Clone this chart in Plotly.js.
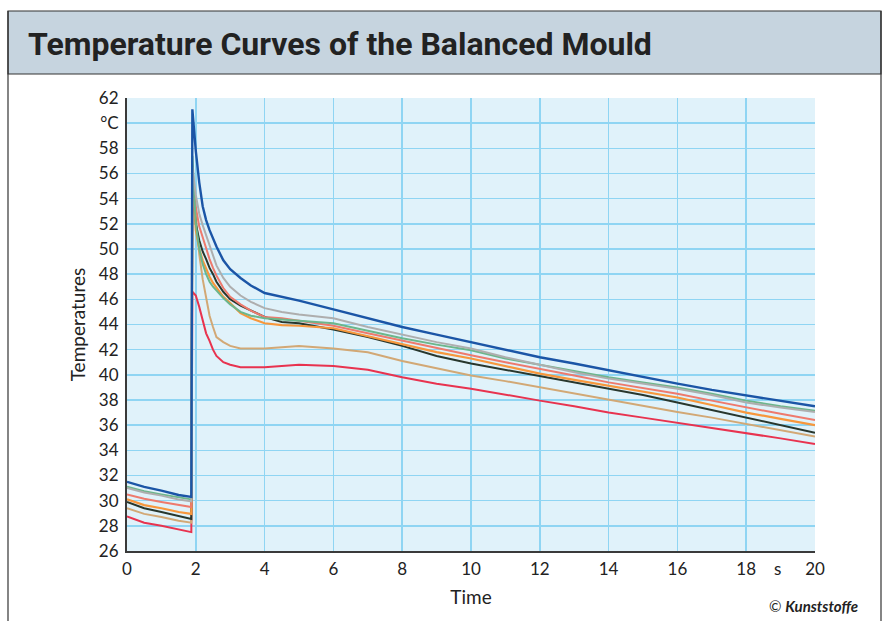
<!DOCTYPE html>
<html>
<head>
<meta charset="utf-8">
<script src="https://cdn.plot.ly/plotly-3.0.1.min.js"></script>
<style>
html,body{margin:0;padding:0;background:#fff;}
#chart{width:882px;height:621px;}
</style>
</head>
<body>
<div id="chart"></div>
<script>
// time axis (s)
const time = [0, 0.5, 1, 1.5, 1.87, 1.9, 2.0, 2.1, 2.2, 2.3, 2.4, 2.5, 2.6, 2.8, 3.0, 3.3, 3.6, 4, 4.5, 5, 6, 7, 8, 9, 10, 11, 12, 13, 14, 15, 16, 17, 18, 19, 20];

// temperature series (°C)
const blue   = [31.5, 31.1, 30.8, 30.45, 30.3, 61.1, 57.8, 55.3, 53.4, 52.3, 51.5, 50.8, 50.2, 49.1, 48.4, 47.7, 47.1, 46.5, 46.2, 45.9, 45.2, 44.5, 43.8, 43.2, 42.6, 42.0, 41.4, 40.9, 40.35, 39.8, 39.3, 38.8, 38.35, 37.9, 37.5];
const grey   = [31.0, 30.65, 30.4, 30.1, 29.95, 56.5, 54.3, 52.8, 51.9, 51.1, 50.3, 49.5, 48.7, 47.7, 47.0, 46.3, 45.8, 45.3, 45.0, 44.8, 44.5, 43.8, 43.2, 42.6, 42.1, 41.4, 40.8, 40.2, 39.7, 39.3, 38.9, 38.4, 37.8, 37.4, 37.05];
const green  = [31.1, 30.75, 30.5, 30.25, 30.1, 57.4, 52.0, 50.0, 48.8, 48.0, 47.4, 47.0, 46.7, 46.1, 45.6, 45.0, 44.7, 44.5, 44.4, 44.3, 44.1, 43.5, 42.9, 42.4, 41.95, 41.3, 40.8, 40.3, 39.8, 39.4, 39.0, 38.5, 37.95, 37.5, 37.15];
const salmon = [30.5, 30.15, 29.9, 29.65, 29.5, 56.0, 53.3, 51.8, 50.9, 50.0, 49.2, 48.5, 47.9, 46.9, 46.2, 45.6, 45.1, 44.6, 44.5, 44.3, 43.9, 43.3, 42.7, 42.1, 41.55, 41.0, 40.5, 39.95, 39.4, 38.95, 38.5, 37.95, 37.4, 36.9, 36.4];
const orange = [30.1, 29.65, 29.4, 29.1, 28.95, 56.3, 51.5, 50.0, 49.1, 48.4, 47.8, 47.3, 46.9, 46.2, 45.7, 44.9, 44.5, 44.1, 43.95, 43.9, 43.7, 43.05, 42.4, 41.8, 41.3, 40.7, 40.1, 39.6, 39.15, 38.7, 38.2, 37.6, 37.0, 36.5, 36.0];
const black  = [29.9, 29.4, 29.1, 28.75, 28.55, 55.0, 52.0, 50.7, 49.8, 49.2, 48.5, 48.0, 47.4, 46.6, 46.0, 45.5, 45.1, 44.6, 44.2, 44.1, 43.6, 43.0, 42.3, 41.5, 40.9, 40.4, 39.95, 39.4, 38.9, 38.4, 37.8, 37.2, 36.6, 36.0, 35.4];
const tan    = [29.4, 28.95, 28.7, 28.4, 28.25, 54.5, 52.6, 49.6, 47.6, 46.0, 44.7, 43.8, 43.0, 42.6, 42.3, 42.1, 42.1, 42.1, 42.2, 42.3, 42.1, 41.8, 41.1, 40.5, 39.95, 39.5, 39.0, 38.5, 38.0, 37.5, 37.05, 36.6, 36.1, 35.6, 35.1];
const red    = [28.75, 28.25, 28.0, 27.7, 27.5, 46.6, 46.3, 45.4, 44.3, 43.3, 42.7, 42.0, 41.5, 41.0, 40.8, 40.6, 40.6, 40.6, 40.7, 40.8, 40.7, 40.4, 39.8, 39.3, 38.9, 38.4, 37.95, 37.5, 37.0, 36.6, 36.2, 35.8, 35.4, 34.95, 34.5];

// tick labels
const yTickVals = [26, 28, 30, 32, 34, 36, 38, 40, 42, 44, 46, 48, 50, 52, 54, 56, 58, 60, 62];
const yTickText = ["26", "28", "30", "32", "34", "36", "38", "40", "42", "44", "46", "48", "50", "52", "54", "56", "58", "°C", "62"];
const xTickVals = [0, 2, 4, 6, 8, 10, 12, 14, 16, 18, 20];
const xTickText = ["0", "2", "4", "6", "8", "10", "12", "14", "16", "18", "20"];

const seriesList = [
  {y: red,    color: '#e8334f', w: 2},
  {y: tan,    color: '#d2a875', w: 2},
  {y: black,  color: '#28372d', w: 2},
  {y: orange, color: '#f7973c', w: 2.2},
  {y: salmon, color: '#ee7a6d', w: 2},
  {y: green,  color: '#6cb68b', w: 2},
  {y: grey,   color: '#aeaeae', w: 2},
  {y: blue,   color: '#1b55a6', w: 2.4}
];

const traces = seriesList.map(s => ({
  type: 'scatter', mode: 'lines', x: time, y: s.y,
  line: {color: s.color, width: s.w}, hoverinfo: 'skip', showlegend: false
}));

// pixel -> paper helpers (layout only)
const L = 127, R = 815, T = 98, B = 551;
const px = v => (v - L) / (R - L);
const py = v => (B - v) / (B - T);

const FAM = 'Lato, "Liberation Sans", sans-serif';
const fontTick = {family: FAM, size: 17, color: '#222'};

const layout = {
  width: 882, height: 621,
  margin: {l: L, r: 882 - R, t: T, b: 621 - B, pad: 0},
  paper_bgcolor: '#ffffff',
  plot_bgcolor: '#e0f2fa',
  showlegend: false,
  xaxis: {
    range: [0, 20], tickvals: xTickVals, ticktext: xTickText,
    showgrid: true, gridcolor: '#8fd5f3', gridwidth: 1.5,
    zeroline: false, showline: true, linecolor: '#3a3a3a', linewidth: 2,
    ticks: '', tickfont: fontTick, ticklabelstandoff: 2,
    title: {text: 'Time', font: {family: FAM, size: 19, color: '#222'}, standoff: 12}
  },
  yaxis: {
    range: [26, 62], tickvals: yTickVals, ticktext: yTickText,
    showgrid: true, gridcolor: '#8fd5f3', gridwidth: 1.5,
    zeroline: false, showline: true, linecolor: '#3a3a3a', linewidth: 2,
    ticks: '', tickfont: fontTick, ticklabelstandoff: 3,
    title: {text: 'Temperatures', font: {family: FAM, size: 19, color: '#222'}, standoff: 8}
  },
  shapes: [
    {type: 'rect', xref: 'paper', yref: 'paper', x0: px(8), x1: px(881), y0: py(74), y1: py(11),
     fillcolor: '#c6d4df', line: {color: '#333', width: 1.2}, layer: 'below'},
    {type: 'line', xref: 'paper', yref: 'paper', x0: px(8), x1: px(8), y0: py(11), y1: py(625), line: {color: '#333', width: 1.2}},
    {type: 'line', xref: 'paper', yref: 'paper', x0: px(881), x1: px(881), y0: py(11), y1: py(625), line: {color: '#333', width: 1.2}}
  ],
  annotations: [
    {xref: 'paper', yref: 'paper', x: px(26), y: py(44), xanchor: 'left', yanchor: 'middle', showarrow: false,
     text: '<b>Temperature Curves of the Balanced Mould</b>',
     font: {family: 'Roboto, sans-serif', size: 32, color: '#222'}},
    {xref: 'x', yref: 'paper', x: 18.92, y: py(568), xanchor: 'center', yanchor: 'middle', showarrow: false,
     text: 's', font: fontTick},
    {xref: 'paper', yref: 'paper', x: px(860), y: py(606), xanchor: 'right', yanchor: 'middle', showarrow: false,
     text: '© <b><i>Kunststoffe</i></b>',
     font: {family: FAM, size: 15, color: '#222'}}
  ]
};

Plotly.newPlot('chart', traces, layout, {staticPlot: true, displayModeBar: false});
</script>
</body>
</html>
